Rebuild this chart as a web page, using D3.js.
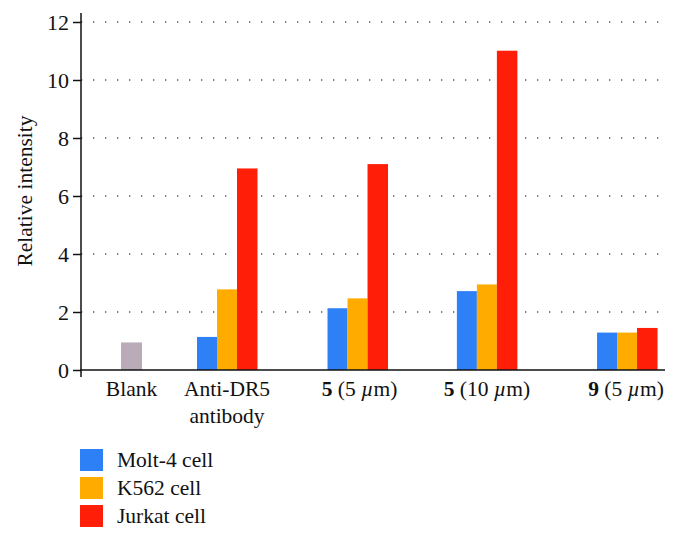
<!DOCTYPE html>
<html><head><meta charset="utf-8">
<script src="https://cdn.jsdelivr.net/npm/d3@7"></script>
<style>
body{margin:0;background:#fff;}
text{font-family:"Liberation Serif","Times New Roman",serif;fill:#111;}
</style></head>
<body><svg id="c" width="679" height="541"></svg>
<script>
const categories = ["Blank", "Anti-DR5 antibody", "5 (5 µm)", "5 (10 µm)", "9 (5 µm)"];
const series = ["Molt-4 cell", "K562 cell", "Jurkat cell"];
const blankValue = [0.95];
const molt4 = [null, 1.14, 2.13, 2.72, 1.29];
const k562 = [null, 2.78, 2.47, 2.95, 1.29];
const jurkat = [null, 6.95, 7.1, 11.01, 1.45];
const yTicks = [0, 2, 4, 6, 8, 10, 12];
const colors = ["#2e80f7", "#ffab00", "#ff1f08"];
const blankColor = "#b9abb8";

const svg = d3.select("#c");
const pL = 81, pR = 665, pT = 22, pB = 370;
const fs = 21.5;
const y = d3.scaleLinear().domain([0, 12]).range([pB, pT]);
// group centers (uneven spacing as in the original)
const frac = [0.0865, 0.25, 0.4735, 0.695, 0.935];
const x = d3.scaleOrdinal().domain(categories).range(frac.map(f => pL + f * (pR - pL)));
const barW = 20;

// gridlines
svg.append("g").selectAll("line").data(yTicks.filter(d => d > 0)).join("line")
  .attr("x1", pL).attr("x2", pR - 2)
  .attr("y1", d => y(d)).attr("y2", d => y(d))
  .attr("stroke", "#555").attr("stroke-width", 1.3)
  .attr("stroke-dasharray", "1.3,10.7");

// bars
const seriesData = [molt4, k562, jurkat];
seriesData.forEach((vals, si) => {
  svg.append("g").selectAll("rect")
    .data(categories.map((c, i) => ({c, v: vals[i]})).filter(d => d.v != null))
    .join("rect")
    .attr("x", d => x(d.c) - 1.5 * barW + si * barW)
    .attr("width", barW + (si === 2 ? 0.5 : 0))
    .attr("y", d => y(d.v))
    .attr("height", d => y(0) - y(d.v))
    .attr("fill", colors[si]);
});
svg.append("g").selectAll("rect").data(blankValue).join("rect")
  .attr("x", x(categories[0]) - barW / 2 - 0.5)
  .attr("width", barW + 1)
  .attr("y", d => y(d)).attr("height", d => y(0) - y(d))
  .attr("fill", blankColor);

// y axis
const yAxis = d3.axisLeft(y).tickValues(yTicks).tickSize(8).tickPadding(4).tickFormat(d3.format("d"));
const ya = svg.append("g").attr("transform", `translate(${pL},0)`).call(yAxis);
ya.select(".domain").remove();
ya.selectAll("line").attr("stroke", "#111").attr("stroke-width", 1.5);
ya.selectAll("text").attr("font-size", 22).attr("font-family", "Liberation Serif").attr("fill", "#111");
svg.append("line").attr("x1", pL).attr("x2", pL).attr("y1", 13).attr("y2", pB + 7)
  .attr("stroke", "#111").attr("stroke-width", 1.5);
svg.append("line").attr("x1", pL - 1).attr("x2", pR).attr("y1", pB).attr("y2", pB)
  .attr("stroke", "#111").attr("stroke-width", 1.5);

// y label
svg.append("text").attr("transform", `translate(32,${(115 + 267) / 2}) rotate(-90)`)
  .attr("text-anchor", "middle").attr("font-size", fs).text("Relative intensity");

// x labels
const labelY = 396;
const xl = svg.append("g");
function addLabel(cx, lines) {
  lines.forEach((parts, li) => {
    const t = xl.append("text").attr("x", cx).attr("y", labelY + li * 27)
      .attr("text-anchor", "middle").attr("font-size", fs);
    parts.forEach(p => {
      t.append("tspan").text(p.t)
        .attr("font-weight", p.b ? "bold" : null)
        .attr("font-style", p.i ? "italic" : null);
    });
  });
}
addLabel(x(categories[0]), [[{t: "Blank"}]]);
addLabel(x(categories[1]), [[{t: "Anti-DR5"}], [{t: "antibody"}]]);
addLabel(x(categories[2]) + 2, [[{t: "5", b: true}, {t: " (5 "}, {t: "µ", i: true}, {t: "m)"}]]);
addLabel(x(categories[3]), [[{t: "5", b: true}, {t: " (10 "}, {t: "µ", i: true}, {t: "m)"}]]);
addLabel(x(categories[4]) - 1, [[{t: "9", b: true}, {t: " (5 "}, {t: "µ", i: true}, {t: "m)"}]]);

// legend
const lg = svg.append("g").attr("transform", "translate(80,449)");
series.forEach((s, i) => {
  lg.append("rect").attr("x", 0).attr("y", i * 28).attr("width", 23).attr("height", 22).attr("fill", colors[i]);
  lg.append("text").attr("x", 37).attr("y", i * 28 + 18).attr("font-size", fs).text(s);
});
</script></body></html>
